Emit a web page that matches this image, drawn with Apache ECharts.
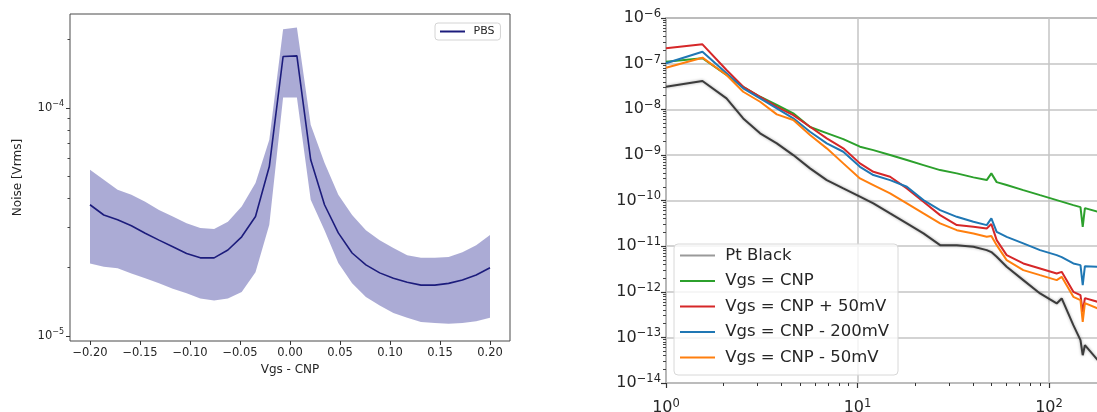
<!DOCTYPE html>
<html>
<head>
<meta charset="utf-8">
<script src="https://cdn.jsdelivr.net/npm/echarts@6/dist/echarts.min.js"></script>
<style>
  html, body { margin: 0; padding: 0; background: #ffffff; }
  #chart { width: 1097px; height: 412px; }
</style>
</head>
<body>
<div id="chart"></div>
<script>
// ---- Left panel: RMS noise versus gate offset from the charge neutrality point ----
const vgsOffset = [-0.2000, -0.1862, -0.1724, -0.1586, -0.1448, -0.1310, -0.1172, -0.1034, -0.0897, -0.0759,
                   -0.0621, -0.0483, -0.0345, -0.0207, -0.0069, 0.0069, 0.0207, 0.0345, 0.0483, 0.0621,
                   0.0759, 0.0897, 0.1034, 0.1172, 0.1310, 0.1448, 0.1586, 0.1724, 0.1862, 0.2000];
const noiseMean = [3.76e-5, 3.39e-5, 3.23e-5, 3.04e-5, 2.82e-5, 2.63e-5, 2.46e-5, 2.30e-5, 2.20e-5, 2.20e-5,
                   2.38e-5, 2.72e-5, 3.34e-5, 5.53e-5, 1.68e-4, 1.69e-4, 5.92e-5, 3.76e-5, 2.83e-5, 2.31e-5,
                   2.05e-5, 1.89e-5, 1.79e-5, 1.72e-5, 1.67e-5, 1.67e-5, 1.70e-5, 1.76e-5, 1.85e-5, 1.99e-5];
const noiseUpper = [5.35e-5, 4.84e-5, 4.37e-5, 4.16e-5, 3.88e-5, 3.57e-5, 3.34e-5, 3.12e-5, 2.97e-5, 2.94e-5,
                    3.17e-5, 3.69e-5, 4.68e-5, 7.25e-5, 2.21e-4, 2.25e-4, 8.44e-5, 5.74e-5, 4.16e-5, 3.39e-5,
                    2.91e-5, 2.63e-5, 2.43e-5, 2.26e-5, 2.20e-5, 2.20e-5, 2.22e-5, 2.33e-5, 2.50e-5, 2.77e-5];
const noiseLower = [2.08e-5, 2.01e-5, 1.98e-5, 1.88e-5, 1.79e-5, 1.70e-5, 1.61e-5, 1.54e-5, 1.46e-5, 1.43e-5,
                    1.46e-5, 1.56e-5, 1.90e-5, 3.07e-5, 1.11e-4, 1.11e-4, 3.95e-5, 2.91e-5, 2.09e-5, 1.70e-5,
                    1.48e-5, 1.36e-5, 1.26e-5, 1.20e-5, 1.15e-5, 1.14e-5, 1.13e-5, 1.14e-5, 1.16e-5, 1.20e-5];
const xTicksLeft = [-0.20, -0.15, -0.10, -0.05, 0.00, 0.05, 0.10, 0.15, 0.20];
const yDecadesLeft = [-5, -4];

// ---- Right panel: noise spectra ----
const freq = [1.0, 1.55, 2.07, 2.53, 3.10, 3.79, 4.62, 5.65, 6.91, 8.43,
              10.3, 12.1, 14.8, 18.1, 22.1, 27.0, 33.0, 40.3, 47.3, 50.0,
              53.3, 60.1, 73.4, 89.8, 109.7, 116.5, 134, 146, 150, 154, 180];
const ptBlack = [3.11e-8, 4.15e-8, 1.73e-8, 6.3e-9, 2.96e-9, 1.79e-9, 9.90e-10, 5.06e-10, 2.80e-10, 1.84e-10,
                 1.21e-10, 8.64e-11, 5.21e-11, 3.15e-11, 1.90e-11, 1.05e-11, 1.05e-11, 9.65e-12, 8.17e-12, 7.39e-12,
                 5.83e-12, 3.52e-12, 1.80e-12, 9.18e-13, 5.54e-13, 7.13e-13, 1.85e-13, 8.68e-14, 4.07e-14, 6.75e-14, 3.16e-14];
const vgsCnp = [1.10e-7, 1.31e-7, 5.62e-8, 3.11e-8, 1.88e-8, 1.24e-8, 8.13e-9, 4.07e-9, 3.00e-9, 2.22e-9,
                1.51e-9, 1.27e-9, 9.90e-10, 7.69e-10, 5.97e-10, 4.64e-10, 3.93e-10, 3.21e-10, 2.80e-10, 3.93e-10,
                2.53e-10, 2.18e-10, 1.69e-10, 1.31e-10, 1.02e-10, 9.46e-11, 7.93e-11, 7.17e-11, 2.65e-11, 6.81e-11, 5.65e-11];
const vgsPlus50 = [2.17e-7, 2.65e-7, 7.24e-8, 3.11e-8, 1.88e-8, 1.13e-8, 7.46e-9, 4.13e-9, 2.30e-9, 1.39e-9,
                   6.51e-10, 4.26e-10, 3.31e-10, 1.84e-10, 9.37e-11, 4.78e-11, 2.89e-11, 2.65e-11, 2.44e-11, 3.04e-11,
                   1.35e-11, 6.35e-12, 4.17e-12, 3.24e-12, 2.52e-12, 2.73e-12, 9.95e-13, 8.42e-13, 3.62e-13, 7.24e-13, 6.00e-13];
const vgsMinus200 = [1.02e-7, 1.82e-7, 6.13e-8, 2.87e-8, 1.73e-8, 1.05e-8, 6.32e-9, 3.21e-9, 1.79e-9, 1.17e-9,
                     5.48e-10, 3.61e-10, 2.80e-10, 2.00e-10, 1.02e-10, 6.16e-11, 4.39e-11, 3.41e-11, 2.89e-11, 4.05e-11,
                     2.06e-11, 1.60e-11, 1.15e-11, 8.17e-12, 6.35e-12, 5.74e-12, 4.17e-12, 3.83e-12, 1.40e-12, 3.64e-12, 3.52e-12];
const vgsMinus50 = [8.13e-8, 1.35e-7, 5.62e-8, 2.42e-8, 1.46e-8, 7.73e-9, 5.80e-9, 2.72e-9, 1.39e-9, 6.51e-10,
                    3.05e-10, 2.18e-10, 1.43e-10, 8.64e-11, 5.21e-11, 3.15e-11, 2.24e-11, 1.90e-11, 1.60e-11, 1.66e-11,
                    1.05e-11, 4.93e-12, 2.98e-12, 2.31e-12, 1.80e-12, 2.12e-12, 7.73e-13, 6.54e-13, 2.19e-13, 5.62e-13, 4.30e-13];
const seriesNames = ['Pt Black', 'Vgs = CNP', 'Vgs = CNP + 50mV', 'Vgs = CNP - 200mV', 'Vgs = CNP - 50mV'];
const minorMultiples = [2, 3, 4, 5, 6, 7, 8, 9];

// axis extents
const yLeftMin = 9.5e-6, yLeftMax = 2.58e-4;
const yRightMin = 1e-14, yRightMax = 1e-6;
const fMin = 1, fMax = 1000;

const FONT = 'DejaVu Sans';
const TXT = '#262626';

function minorTicks(lo, hi) {
  const out = [];
  for (let n = Math.floor(lo) - 1; n <= Math.ceil(hi); n++) {
    minorMultiples.forEach(k => {
      const e = n + Math.log10(k);
      if (e > lo && e < hi) out.push(e);
    });
  }
  return out;
}
function powLabel(e) {
  const r = Math.round(e);
  return '{b|10}{s|' + (r < 0 ? '\u2212' + (-r) : r) + '}';
}
function richPow(base, sup, lh) {
  return {
    b: { fontSize: base, fontFamily: FONT, color: TXT, lineHeight: lh },
    s: { fontSize: sup, fontFamily: FONT, color: TXT, verticalAlign: 'top' }
  };
}
const zip = (xs, ys) => xs.map((x, i) => [x, ys[i]]);

const lyLo = Math.log10(yLeftMin), lyHi = Math.log10(yLeftMax);
const ryLo = Math.log10(yRightMin), ryHi = Math.log10(yRightMax);
const rxLo = Math.log10(fMin), rxHi = Math.log10(fMax);

const hidden = { show: false };
const noLine = { show: false, onZero: false };

// spread band: upper edge left to right, then lower edge back
function renderBand(params, api) {
  const upper = vgsOffset.map((x, i) => api.coord([x, noiseUpper[i]]));
  const lower = vgsOffset.map((x, i) => api.coord([x, noiseLower[i]])).reverse();
  return {
    type: 'polygon',
    shape: { points: upper.concat(lower) },
    style: { fill: 'rgba(0,0,128,0.33)', stroke: 'none' }
  };
}

const option = {
  animation: false,
  backgroundColor: '#ffffff',
  textStyle: { fontFamily: FONT },
  grid: [
    { left: 70, top: 14, width: 440, height: 327, outerBoundsMode: 'none', containLabel: false,
      show: true, borderColor: '#4a4a4a', borderWidth: 1, backgroundColor: 'transparent' },
    { left: 666, top: 18, width: 574.5, height: 365, outerBoundsMode: 'none', containLabel: false,
      show: true, borderColor: '#4a4a4a', borderWidth: 1.2, backgroundColor: 'transparent' }
  ],
  legend: [
    {
      left: 435, top: 23, orient: 'vertical', data: ['PBS'],
      icon: 'rect', itemWidth: 25, itemHeight: 2, padding: [3, 6, 3, 5],
      borderColor: '#d4d4d4', borderWidth: 1, borderRadius: 3, backgroundColor: 'rgba(255,255,255,0.8)',
      selectedMode: false, formatter: n => ' ' + n,
      textStyle: { fontFamily: FONT, fontSize: 11, color: TXT }
    },
    {
      left: 674, top: 244, orient: 'vertical',
      data: [{ name: 'Pt Black', itemStyle: { color: '#9a9a9a' } }].concat(seriesNames.slice(1)),
      icon: 'rect', itemWidth: 35, itemHeight: 2, itemGap: 8.5, padding: [3, 9, 9, 6],
      borderColor: '#d8d8d8', borderWidth: 1, borderRadius: 4, backgroundColor: 'rgba(255,255,255,0.8)',
      selectedMode: false, formatter: n => ' ' + n,
      textStyle: { fontFamily: FONT, fontSize: 16.5, color: TXT }
    }
  ],
  xAxis: [
    { // left: gate offset
      gridIndex: 0, type: 'value', min: -0.22, max: 0.22, position: 'bottom',
      axisLine: noLine, splitLine: hidden,
      axisTick: { show: true, customValues: xTicksLeft, length: 4, lineStyle: { color: '#333' } },
      axisLabel: {
        customValues: xTicksLeft, margin: 6, fontSize: 11.5, color: TXT, fontFamily: FONT,
        formatter: v => (v < -1e-9 ? '\u2212' : '') + Math.abs(v).toFixed(2)
      },
      name: 'Vgs - CNP', nameLocation: 'middle', nameGap: 22,
      nameTextStyle: { fontSize: 12, color: TXT, fontFamily: FONT }
    },
    { gridIndex: 1, type: 'log', min: fMin, max: fMax, position: 'bottom', show: false },
    { // right: decade ticks, labels and grid
      gridIndex: 1, type: 'value', min: rxLo, max: rxHi, interval: 1, position: 'bottom',
      axisLine: noLine,
      axisTick: { show: true, length: 5, lineStyle: { color: '#333', width: 1.2 } },
      axisLabel: { margin: 15, formatter: powLabel, rich: richPow(16, 11.5, 20) },
      splitLine: { show: true, lineStyle: { color: '#c4c4c4', width: 1.5 } }
    },
    { // right: minor ticks
      gridIndex: 1, type: 'value', min: rxLo, max: rxHi, position: 'bottom',
      axisLine: noLine, axisLabel: hidden, splitLine: hidden,
      axisTick: { show: true, customValues: minorTicks(rxLo, rxHi), length: 3, lineStyle: { color: '#333', width: 1 } }
    }
  ],
  yAxis: [
    { gridIndex: 0, type: 'log', min: yLeftMin, max: yLeftMax, position: 'left', show: false },
    { // left: decade ticks and labels
      gridIndex: 0, type: 'value', min: lyLo, max: lyHi, position: 'left',
      axisLine: noLine, splitLine: hidden,
      axisTick: { show: true, customValues: yDecadesLeft, length: 4, lineStyle: { color: '#333' } },
      axisLabel: { customValues: yDecadesLeft, margin: 6, formatter: powLabel, rich: richPow(11.5, 8, 15) },
      name: 'Noise [Vrms]', nameLocation: 'middle', nameGap: 46,
      nameTextStyle: { fontSize: 12, color: TXT, fontFamily: FONT }
    },
    { // left: minor ticks
      gridIndex: 0, type: 'value', min: lyLo, max: lyHi, position: 'left',
      axisLine: noLine, axisLabel: hidden, splitLine: hidden,
      axisTick: { show: true, customValues: minorTicks(lyLo, lyHi), length: 2.5, lineStyle: { color: '#444' } }
    },
    { gridIndex: 1, type: 'log', min: yRightMin, max: yRightMax, position: 'left', show: false },
    { // right: decade ticks, labels and grid
      gridIndex: 1, type: 'value', min: ryLo, max: ryHi, interval: 1, position: 'left',
      axisLine: noLine,
      axisTick: { show: true, length: 5, lineStyle: { color: '#333', width: 1.2 } },
      axisLabel: { margin: 5, formatter: powLabel, rich: richPow(16, 11.5, 20) },
      splitLine: { show: true, lineStyle: { color: '#c4c4c4', width: 1.5 } }
    },
    { // right: minor ticks
      gridIndex: 1, type: 'value', min: ryLo, max: ryHi, position: 'left',
      axisLine: noLine, axisLabel: hidden, splitLine: hidden,
      axisTick: { show: true, customValues: minorTicks(ryLo, ryHi), length: 3, lineStyle: { color: '#444', width: 1 } }
    }
  ],
  series: [
    {
      name: 'band', type: 'custom', xAxisIndex: 0, yAxisIndex: 0,
      data: [[vgsOffset[0], noiseLower[0]]], renderItem: renderBand,
      silent: true, clip: true, z: 1
    },
    {
      name: 'PBS', type: 'line', xAxisIndex: 0, yAxisIndex: 0,
      data: zip(vgsOffset, noiseMean), showSymbol: false, symbol: 'none',
      color: '#1c1c7c', lineStyle: { color: '#1c1c7c', width: 1.6 }, z: 3
    },
    {
      name: 'Pt Black', type: 'line', xAxisIndex: 1, yAxisIndex: 3,
      data: zip(freq, ptBlack), showSymbol: false, symbol: 'none',
      color: '#3c3c3c',
      lineStyle: { color: '#3c3c3c', width: 2, shadowColor: 'rgba(0,0,0,0.35)', shadowBlur: 3 }, z: 3
    },
    {
      name: 'Vgs = CNP', type: 'line', xAxisIndex: 1, yAxisIndex: 3,
      data: zip(freq, vgsCnp), showSymbol: false, symbol: 'none',
      color: '#2ca02c', lineStyle: { color: '#2ca02c', width: 2 }, z: 3
    },
    {
      name: 'Vgs = CNP + 50mV', type: 'line', xAxisIndex: 1, yAxisIndex: 3,
      data: zip(freq, vgsPlus50), showSymbol: false, symbol: 'none',
      color: '#d62728', lineStyle: { color: '#d62728', width: 2 }, z: 3
    },
    {
      name: 'Vgs = CNP - 200mV', type: 'line', xAxisIndex: 1, yAxisIndex: 3,
      data: zip(freq, vgsMinus200), showSymbol: false, symbol: 'none',
      color: '#1f77b4', lineStyle: { color: '#1f77b4', width: 2 }, z: 3
    },
    {
      name: 'Vgs = CNP - 50mV', type: 'line', xAxisIndex: 1, yAxisIndex: 3,
      data: zip(freq, vgsMinus50), showSymbol: false, symbol: 'none',
      color: '#ff7f0e', lineStyle: { color: '#ff7f0e', width: 2 }, z: 3
    }
  ]
};

const chart = echarts.init(document.getElementById('chart'), null, { renderer: 'canvas' });
chart.setOption(option);
</script>
</body>
</html>
